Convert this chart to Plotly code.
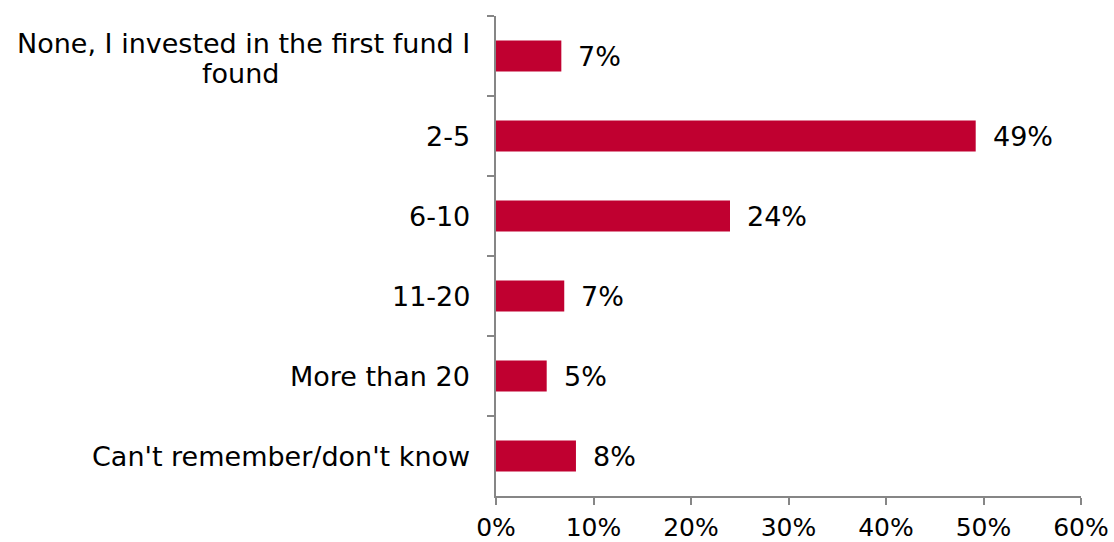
import plotly.graph_objects as go

# Survey answers: how many funds were compared before investing
categories = [
    "None, I invested in the first fund I found",
    "2-5",
    "6-10",
    "11-20",
    "More than 20",
    "Can't remember/don't know",
]
# The first category label is split over two lines
first_label_lines = ["None, I invested in the first fund I", "found"]
shares = [0.067, 0.492, 0.240, 0.070, 0.052, 0.082]
x_ticks = [0, 0.1, 0.2, 0.3, 0.4, 0.5, 0.6]
x_tick_labels = ["0%", "10%", "20%", "30%", "40%", "50%", "60%"]

BAR_COLOR = "#C00030"
AXIS_COLOR = "#868686"
FONT = "DejaVu Sans, Verdana, sans-serif"
FONT_SIZE = 27
label_font = dict(family=FONT, size=FONT_SIZE, color="#000000")

fig = go.Figure(
    go.Bar(
        x=shares,
        y=categories,
        orientation="h",
        marker=dict(color=BAR_COLOR, line=dict(width=0)),
        width=0.39,
        hoverinfo="skip",
    )
)

# Value labels to the right of each bar
for cat, val in zip(categories, shares):
    fig.add_annotation(
        x=val, y=cat, xref="x", yref="y",
        text=f"{val:.0%}", showarrow=False,
        xanchor="left", yanchor="middle", xshift=15,
        font=label_font,
    )

# Category labels to the left of the axis
for cat in categories[1:]:
    fig.add_annotation(
        x=0, y=cat, xref="paper", yref="y",
        text=cat, showarrow=False,
        xanchor="right", yanchor="middle", xshift=-24,
        font=label_font,
    )
# Two-line label, second line centred under the first
fig.add_annotation(
    x=0, y=categories[0], xref="paper", yref="y",
    text=first_label_lines[0], showarrow=False,
    xanchor="right", yanchor="middle", xshift=-24, yshift=13,
    font=label_font,
)
fig.add_annotation(
    x=-0.4376, y=categories[0], xref="paper", yref="y",
    text=first_label_lines[1], showarrow=False,
    xanchor="center", yanchor="middle", yshift=-17,
    font=label_font,
)

fig.update_xaxes(
    range=[0, 0.6],
    tickvals=x_ticks,
    ticktext=x_tick_labels,
    showgrid=False,
    zeroline=False,
    showline=True,
    linecolor=AXIS_COLOR,
    linewidth=2,
    ticks="outside",
    ticklen=7,
    tickwidth=2,
    tickcolor=AXIS_COLOR,
    ticklabelstandoff=1,
    automargin=False,
    tickfont=dict(family=FONT, size=25, color="#000000"),
)
fig.update_yaxes(
    autorange="reversed",
    showticklabels=False,
    showgrid=False,
    zeroline=False,
    showline=True,
    linecolor=AXIS_COLOR,
    linewidth=2,
    ticks="outside",
    tickson="boundaries",
    ticklen=7,
    tickwidth=2,
    tickcolor=AXIS_COLOR,
    automargin=False,
)

fig.update_layout(
    width=1114,
    height=542,
    margin=dict(l=496, r=33, t=16, b=46, autoexpand=False),
    paper_bgcolor="#FFFFFF",
    plot_bgcolor="#FFFFFF",
    showlegend=False,
    bargap=0.6,
    font=label_font,
)

fig.write_html("out.html")
